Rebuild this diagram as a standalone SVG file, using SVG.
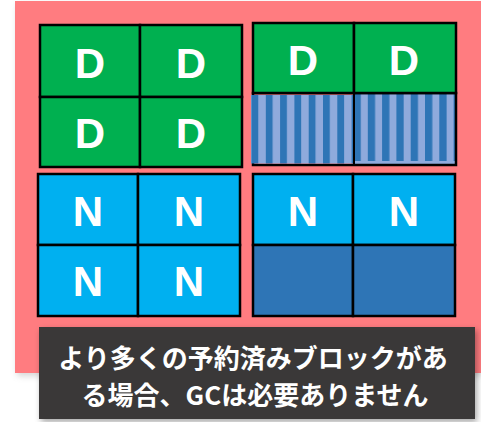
<svg xmlns="http://www.w3.org/2000/svg" width="481" height="422" viewBox="0 0 481 422">
<defs>
<style>
.cell{stroke:#000;stroke-width:2.5}
.d{fill:#00B050}
.n{fill:#00B0F0}
.e{fill:#2E75B6}
.lbl{font-family:"Liberation Sans",Arial,sans-serif;font-weight:bold;font-size:42px;fill:#fff;text-anchor:middle}
.cap{font-family:"Noto Sans CJK JP","Noto Sans",sans-serif;font-weight:bold;font-size:26px;fill:#fff;text-anchor:middle}
</style>
<pattern id="s1" patternUnits="userSpaceOnUse" x="251.5" y="0" width="14.3" height="10">
<rect width="14.3" height="10" fill="#8FAADC"/>
<rect width="6.8" height="10" fill="#2E75B6"/>
</pattern>
<pattern id="s2" patternUnits="userSpaceOnUse" x="353.5" y="0" width="14.3" height="10">
<rect width="14.3" height="10" fill="#8FAADC"/>
<rect width="7.3" height="10" fill="#2E75B6"/>
</pattern>
<filter id="sh" x="-10%" y="-10%" width="120%" height="130%">
<feGaussianBlur stdDeviation="3"/>
</filter>
</defs>
<rect width="481" height="422" fill="#fff"/>
<rect x="17" y="4" width="466" height="372" fill="#999" opacity="0.4" filter="url(#sh)"/>
<rect x="15" y="1" width="466" height="372" fill="#FF7C80"/>

<g id="block-top-left">
<rect class="cell d" x="40" y="25" width="100" height="72"/>
<rect class="cell d" x="140" y="25" width="102" height="72"/>
<rect class="cell d" x="40" y="97" width="100" height="70"/>
<rect class="cell d" x="140" y="97" width="102" height="70"/>
<text class="lbl" x="90" y="78">D</text>
<text class="lbl" x="191" y="78">D</text>
<text class="lbl" x="90" y="148">D</text>
<text class="lbl" x="191" y="148">D</text>
</g>

<g id="block-top-right">
<rect x="354" y="93" width="101" height="71" fill="#8FAADC"/>
<rect x="354" y="93" width="101" height="68" fill="url(#s2)"/>
<rect x="253" y="93" width="203" height="72" fill="none" stroke="#000" stroke-width="2.5"/>
<line x1="354" y1="93" x2="354" y2="165" stroke="#000" stroke-width="2"/>
<rect x="251" y="95" width="102" height="68.5" fill="url(#s1)"/>
<rect class="cell d" x="253" y="23" width="101" height="70"/>
<rect class="cell d" x="354" y="23" width="102" height="70"/>
<text class="lbl" x="303" y="75">D</text>
<text class="lbl" x="404" y="75">D</text>
</g>

<g id="block-bottom-left">
<rect class="cell n" x="38" y="174" width="100" height="71"/>
<rect class="cell n" x="138" y="174" width="102" height="71"/>
<rect class="cell n" x="38" y="245" width="100" height="71"/>
<rect class="cell n" x="138" y="245" width="102" height="71"/>
<text class="lbl" x="88" y="226">N</text>
<text class="lbl" x="189" y="226">N</text>
<text class="lbl" x="88" y="296">N</text>
<text class="lbl" x="189" y="296">N</text>
</g>

<g id="block-bottom-right">
<rect class="cell n" x="253" y="174" width="100" height="71"/>
<rect class="cell n" x="353" y="174" width="102" height="71"/>
<rect class="cell e" x="253" y="245" width="100" height="71"/>
<rect class="cell e" x="353" y="245" width="102" height="71"/>
<text class="lbl" x="303" y="226">N</text>
<text class="lbl" x="404" y="226">N</text>
</g>

<g id="caption">
<rect x="41" y="330" width="436" height="92" fill="#000" opacity="0.35" filter="url(#sh)"/>
<rect x="39" y="327" width="436" height="92" fill="#3A3838"/>
<text class="cap" x="253" y="368">より多くの予約済みブロックがあ</text>
<text class="cap" x="255" y="405">る場合、GCは必要ありません</text>
</g>
</svg>
